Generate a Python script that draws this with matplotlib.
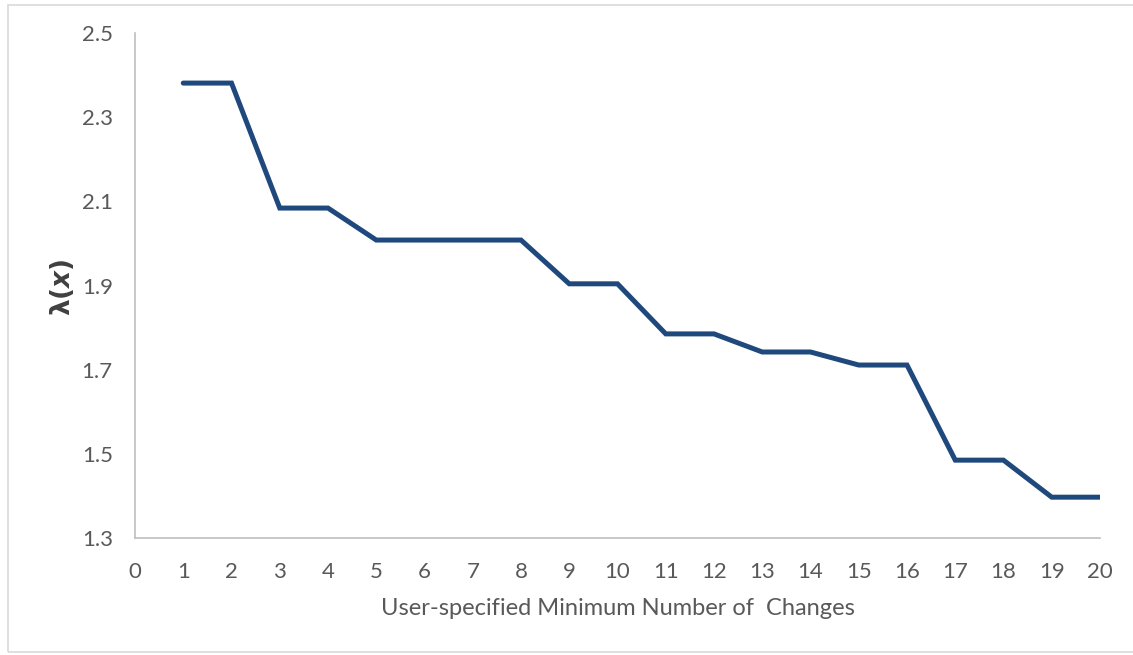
import matplotlib
matplotlib.use("Agg")
import matplotlib.pyplot as plt
from matplotlib.patches import Rectangle

x_values = list(range(1, 21))
lambda_values = [2.381, 2.381, 2.084, 2.084, 2.008, 2.008, 2.008, 2.008,
                 1.904, 1.904, 1.785, 1.785, 1.742, 1.742, 1.711, 1.711,
                 1.485, 1.485, 1.397, 1.397]
x_ticks = list(range(0, 21))
y_ticks = [1.3, 1.5, 1.7, 1.9, 2.1, 2.3, 2.5]
x_label = "User-specified Minimum Number of  Changes"
y_label = r"$\boldsymbol{\lambda(x)}$"

plt.rcParams['font.family'] = ['Lato', 'DejaVu Sans']

fig = plt.figure(figsize=(11.33, 6.55), dpi=100)
ax = fig.add_axes([135/1133, 1-538/655, (1100-135)/1133, (538-33)/655])

ax.plot(x_values, lambda_values, color='#1F497D', linewidth=3.6,
        solid_capstyle='round', solid_joinstyle='miter')

ax.set_xlim(0, 20)
ax.set_ylim(1.3, 2.5)
ax.set_xticks(x_ticks)
ax.set_yticks(y_ticks)
ax.set_yticklabels([f"{v:.1f}" for v in y_ticks])
ax.tick_params(axis='both', length=0, labelsize=16, colors='#595959')
ax.tick_params(axis='x', pad=17)
ax.tick_params(axis='y', pad=16)

for s in ['top', 'right']:
    ax.spines[s].set_visible(False)
for s in ['left', 'bottom']:
    ax.spines[s].set_color('#BFBFBF')
    ax.spines[s].set_linewidth(1.2)

ax.set_xlabel(x_label, fontsize=17, color='#595959', labelpad=12)
fig.text(62/1133, 1-287/655, y_label, rotation=90, fontsize=19,
         color='#404040', ha='center', va='center')

fig.patches.append(Rectangle((8/1133, 1-652/655), 1-8/1133 + 0.01, (652-5)/655,
                             transform=fig.transFigure, fill=False,
                             edgecolor='#D9D9D9', linewidth=1.2))

fig.savefig("out.png", dpi=100)
